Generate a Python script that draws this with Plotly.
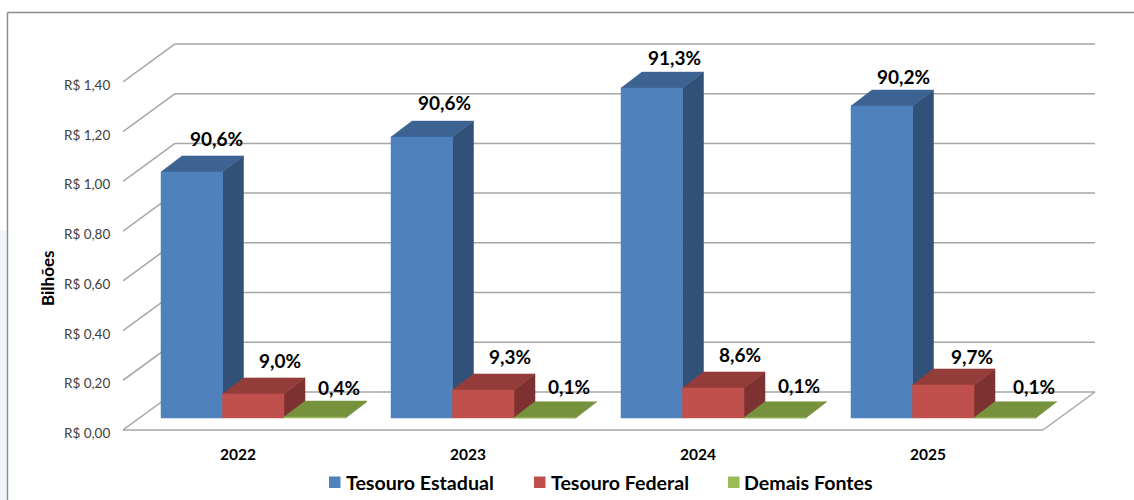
import plotly.graph_objects as go

years = ["2022", "2023", "2024", "2025"]
estadual = [0.99, 1.13, 1.327, 1.255]
federal = [0.097, 0.113, 0.121, 0.133]
demais = [0.004, 0.001, 0.001, 0.001]
pct_estadual = ["90,6%", "90,6%", "91,3%", "90,2%"]
pct_federal = ["9,0%", "9,3%", "8,6%", "9,7%"]
pct_demais = ["0,4%", "0,1%", "0,1%", "0,1%"]
axis_values = [0, 0.2, 0.4, 0.6, 0.8, 1.0, 1.2, 1.4]
axis_labels = ["R$ 0,00", "R$ 0,20", "R$ 0,40", "R$ 0,60", "R$ 0,80", "R$ 1,00", "R$ 1,20", "R$ 1,40"]

W, H = 1134, 500
LEFT, BOTTOM = 123, 70
PX_X, PX_Y = 230.0, 248.6          # pixels per category / per R$ billion
FONT = "Lato"
LABEL_DROP = 3.3 / PX_Y            # value labels sit slightly below their gridline starts
AXIS_EXTRA = 5                     # the axis runs 5 px below the floor line to fit the lowest label

# oblique projection of the 3D chart, in axis units
FLOOR_DX, FLOOR_DY = 52 / PX_X, 38 / PX_Y
FRONT_DX, FRONT_DY = 16 / PX_X, 12 / PX_Y
BAR_DX, BAR_DY = 21 / PX_X, 16 / PX_Y
BAR_W = 61.5 / PX_X
GROUP_START = 22 / PX_X

series = [
    ("Tesouro Estadual", estadual, pct_estadual, "#4F81BD", "#3C6391", "#315179"),
    ("Tesouro Federal", federal, pct_federal, "#C0504D", "#933C3A", "#7D3231"),
    ("Demais Fontes", demais, pct_demais, "#9BBB59", "#76923C", "#62792F"),
]
label_shift = [
    [(25, 33), (23, 35), (23, 31), (22, 30)],
    [(27, 33), (27, 33), (27, 33), (29, 28)],
    [(24, 30), (24, 31), (24, 32), (29, 31)],
]


def faces(values, s):
    side, top, front = ([], []), ([], []), ([], [])
    for i, v in enumerate(values):
        x0 = i + FRONT_DX + GROUP_START + s * BAR_W
        x1 = x0 + BAR_W
        b = FRONT_DY
        t = FRONT_DY + v
        for face, xs, ys in (
            (side, [x1, x1 + BAR_DX, x1 + BAR_DX, x1, x1], [b, b + BAR_DY, t + BAR_DY, t, b]),
            (top, [x0, x1, x1 + BAR_DX, x0 + BAR_DX, x0], [t, t, t + BAR_DY, t + BAR_DY, t]),
            (front, [x0, x1, x1, x0, x0], [b, b, t, t, b]),
        ):
            face[0].extend(xs + [None])
            face[1].extend(ys + [None])
    return side, top, front


fig = go.Figure()
annotations = []
for s, (name, values, pcts, c_front, c_top, c_side) in enumerate(series):
    side, top, front = faces(values, s)
    for face, col in ((side, c_side), (top, c_top), (front, c_front)):
        fig.add_trace(go.Scatter(
            x=face[0], y=face[1], mode="lines", fill="toself", fillcolor=col,
            line=dict(color=col, width=0.5), name=name, showlegend=False, hoverinfo="skip",
        ))
    for i, v in enumerate(values):
        annotations.append(dict(
            x=i + FRONT_DX + GROUP_START + (s + 0.5) * BAR_W, y=FRONT_DY + v,
            xref="x", yref="y", text=f"<b>{pcts[i]}</b>", showarrow=False,
            xshift=label_shift[s][i][0], yshift=label_shift[s][i][1],
            xanchor="center", yanchor="middle",
            font=dict(family=FONT, size=19, color="#000000"),
        ))

# chart walls and floor
GRID = dict(color="#A6A6A6", width=1.5)
shapes = []
n = len(years)
for v in axis_values:
    shapes.append(dict(type="line", layer="below", xref="x", yref="y", x0=0, y0=v,
                       x1=FLOOR_DX, y1=v + FLOOR_DY, line=GRID))
    shapes.append(dict(type="line", layer="below", xref="x", yref="y", x0=FLOOR_DX, y0=v + FLOOR_DY,
                       x1=n + FLOOR_DX, y1=v + FLOOR_DY, line=GRID))
shapes.append(dict(type="line", layer="below", xref="x", yref="y", x0=0, y0=0, x1=n, y1=0, line=GRID))
shapes.append(dict(type="line", layer="below", xref="x", yref="y", x0=n, y0=0,
                   x1=n + FLOOR_DX, y1=FLOOR_DY, line=GRID))


def px(x):
    return x / W


def py(y):
    return 1 - y / H


# page background strip and outer frame
shapes.append(dict(type="rect", layer="below", xref="paper", yref="paper", x0=0, x1=px(7),
                   y0=py(500), y1=py(230), fillcolor="#F1F5FA", line=dict(width=0)))
FRAME = dict(color="#8C8C8C", width=1.5)
shapes.append(dict(type="line", layer="below", xref="paper", yref="paper", x0=px(7.5), x1=1,
                   y0=py(12.5), y1=py(12.5), line=FRAME))
shapes.append(dict(type="line", layer="below", xref="paper", yref="paper", x0=px(7.5), x1=px(7.5),
                   y0=py(500), y1=py(12.5), line=FRAME))

# legend
legend_pos = [(329, 344), (534, 549), (728, 742)]
for (name, _, _, col, _, _), (sx, tx) in zip(series, legend_pos):
    shapes.append(dict(type="rect", xref="paper", yref="paper", x0=px(sx), x1=px(sx + 11.5),
                       y0=py(488), y1=py(476.5), fillcolor=col, line=dict(width=0)))
    annotations.append(dict(x=px(tx), y=py(482), xref="paper", yref="paper", xanchor="left", yanchor="middle",
                            text=f"<b>{name}</b>", showarrow=False,
                            font=dict(family=FONT, size=19.6, color="#000000")))

annotations.append(dict(x=px(47), y=py(278), xref="paper", yref="paper", xanchor="center", yanchor="middle",
                        text="<b>Bilhões</b>", textangle=-90, showarrow=False,
                        font=dict(family=FONT, size=17, color="#000000")))

fig.update_layout(
    width=W, height=H, margin=dict(l=0, r=0, t=0, b=0), autosize=False,
    paper_bgcolor="#FFFFFF", plot_bgcolor="rgba(0,0,0,0)", showlegend=False,
    shapes=shapes, annotations=annotations,
    xaxis=dict(domain=[LEFT / W, 1], range=[0, (W - LEFT) / PX_X], tickvals=[i + 0.5 for i in range(n)],
               ticktext=[f"<b>{y}</b>" for y in years], showgrid=False, zeroline=False, showline=False,
               automargin=False, ticks="outside", ticklen=5, tickcolor="rgba(0,0,0,0)",
               tickfont=dict(family=FONT, size=15.5, color="#000000")),
    yaxis=dict(domain=[(BOTTOM - AXIS_EXTRA) / H, 1], range=[-AXIS_EXTRA / PX_Y, (H - BOTTOM) / PX_Y],
               tickvals=[v - LABEL_DROP for v in axis_values],
               ticktext=axis_labels, showgrid=False, zeroline=False, showline=False,
               automargin=False, ticks="outside", ticklen=9, tickcolor="rgba(0,0,0,0)",
               tickfont=dict(family=FONT, size=13.5, color="#404040")),
)

fig.write_html("out.html", config=dict(displayModeBar=False),
               post_script="document.body.style.margin='0';document.body.style.overflow='hidden';")
